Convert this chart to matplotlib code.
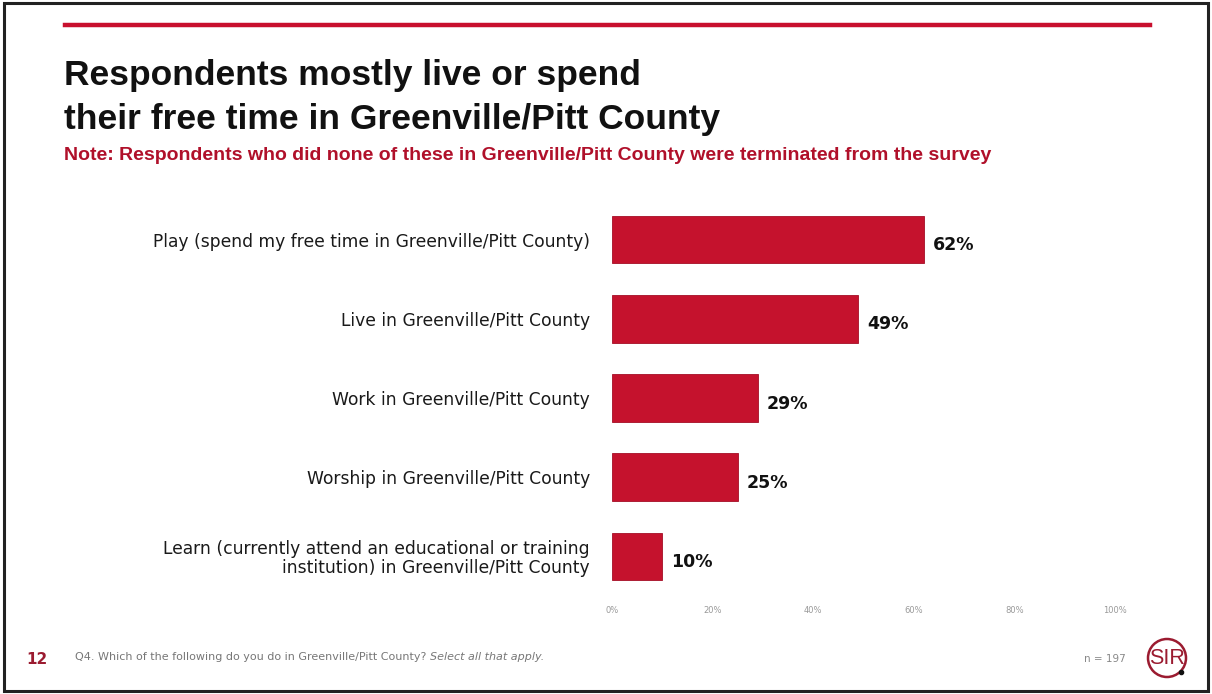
import matplotlib.pyplot as plt
import numpy as np
from matplotlib.patches import Rectangle, Circle
from matplotlib.lines import Line2D

categories = [
    'Play (spend my free time in Greenville/Pitt County)',
    'Live in Greenville/Pitt County',
    'Work in Greenville/Pitt County',
    'Worship in Greenville/Pitt County',
    'Learn (currently attend an educational or training\ninstitution) in Greenville/Pitt County',
]
values = [62, 49, 29, 25, 10]
ticks = [0, 20, 40, 60, 80, 100]

bar_color = '#c5122d'
dark_red = '#9b1b30'
W, H = 1212, 694

fig = plt.figure(figsize=(12.12, 6.94), dpi=100)
fig.patch.set_facecolor('white')

# slide frame and top rule
fig.add_artist(Rectangle((0.003, 0.005), 0.994, 0.99, transform=fig.transFigure,
                         fill=False, edgecolor='#222222', linewidth=2.2))
fig.add_artist(Line2D([65 / W, 1150 / W], [1 - 25 / H] * 2, transform=fig.transFigure,
                      color='#c8102e', linewidth=3.2))

fig.text(64 / W, 1 - 76 / H, 'Respondents mostly live or spend', fontsize=25.5,
         family='Liberation Sans', weight='bold', color='#111111', va='center')
fig.text(64 / W, 1 - 119 / H, 'their free time in Greenville/Pitt County', fontsize=25.5,
         family='Liberation Sans', weight='bold', color='#111111', va='center')
fig.text(64 / W, 1 - 156 / H,
         'Note: Respondents who did none of these in Greenville/Pitt County were terminated from the survey',
         fontsize=14, family='Liberation Sans', weight='bold', color='#b0102a', va='center')

ax = fig.add_axes([612 / W, 1 - 596 / H, 503 / W, 396 / H])
y = np.arange(len(categories))
ax.barh(y, values, height=0.6, color=bar_color, edgecolor='#a50d25', linewidth=0.6)
ax.set_ylim(len(categories) - 0.5, -0.5)
ax.set_xlim(0, 100)

for yi, v in zip(y, values):
    ax.text(v + 1.8, yi + 0.07, f'{v}%', va='center', ha='left', fontsize=12.5,
            weight='bold', color='#111111')

ax.set_yticks(y)
ax.set_yticklabels(categories, fontsize=12.3, color='#1a1a1a', linespacing=1.05)
for lab in ax.get_yticklabels():
    lab.set_horizontalalignment('right')
ax.set_xticks(ticks)
ax.set_xticklabels([f'{t}%' for t in ticks], fontsize=6, color='#999999')
ax.tick_params(axis='y', length=0, pad=16)
ax.tick_params(axis='x', length=0, pad=7)
for s in ax.spines.values():
    s.set_visible(False)

# footer
fig.text(26 / W, 1 - 659 / H, '12', fontsize=11, weight='bold', color=dark_red, va='center')
q = fig.text(75 / W, 1 - 657 / H,
             'Q4. Which of the following do you do in Greenville/Pitt County? ',
             fontsize=8, color='#777777', va='center')
renderer = fig.canvas.get_renderer()
bb = q.get_window_extent(renderer=renderer)
fig.text(bb.x1 / W, 1 - 657 / H, 'Select all that apply.', fontsize=8, style='italic',
         color='#777777', va='center')
fig.text(1126 / W, 1 - 659 / H, 'n = 197', fontsize=7.5, color='#888888', va='center', ha='right')

# logo
logo_ax = fig.add_axes([1145 / W, 1 - 680 / H, 44 / W, 44 / H])
logo_ax.set_xlim(-1.1, 1.1)
logo_ax.set_ylim(-1.1, 1.1)
logo_ax.set_aspect('equal')
logo_ax.axis('off')
logo_ax.add_patch(Circle((0, 0), 0.95, fill=False, edgecolor=dark_red, linewidth=1.8))
logo_ax.text(0, -0.03, 'SIR', ha='center', va='center', fontsize=15.5, color=dark_red,
             family='Liberation Sans')
logo_ax.plot([0.7], [-0.68], 'o', color='#111111', markersize=3)

fig.savefig('out.png', dpi=100, facecolor='white')
